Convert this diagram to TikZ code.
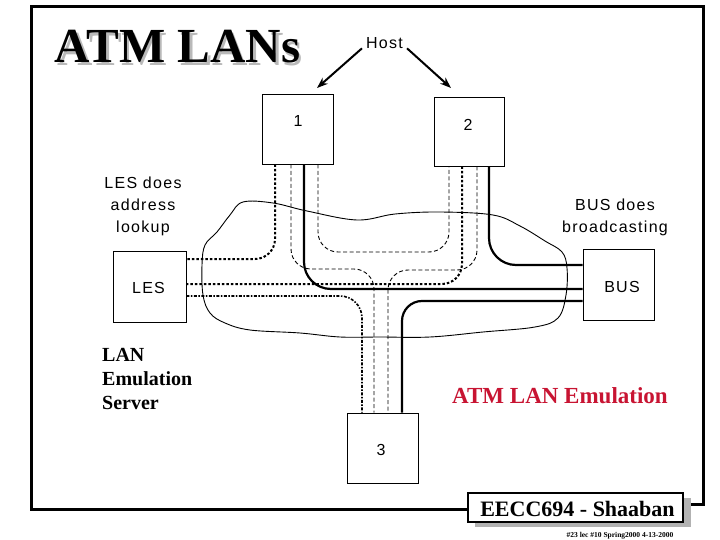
\documentclass[tikz,border=0pt]{standalone}
\usepackage{fontspec}
\setmainfont{Liberation Serif}
\newfontfamily\ars[LetterSpace=8]{Liberation Sans}
\usetikzlibrary{arrows.meta,calc}
\definecolor{atmred}{RGB}{200,20,50}
\begin{document}
\begin{tikzpicture}[x=1pt,y=-1pt,
  box/.style={draw, line width=0.9pt, inner sep=0pt},
  lbl/.style={font=\ars\fontsize{16}{20}\selectfont, anchor=base, inner sep=0pt},
  dotthick/.style={line width=2pt, dash pattern=on 2.5pt off 2pt, rounded corners=20pt},
  dashthin/.style={line width=0.9pt, dash pattern=on 4pt off 2.5pt, rounded corners=20pt},
  dashdot/.style={line width=1.6pt, dash pattern=on 3pt off 1.5pt on 1.5pt off 1.5pt, rounded corners=22pt},
  solidthick/.style={line width=2.2pt, rounded corners=27pt},
  hostarrow/.style={line width=2pt, -{Stealth[length=11pt,width=8pt]}},
  serifb/.style={font=\bfseries\fontsize{20}{24}\selectfont, inner sep=0pt}
]
\useasboundingbox (0,0) rectangle (720,540);
\fill[white] (0,0) rectangle (720,540);

% frame
\draw[line width=3pt] (468,509) -- (31,509) -- (31,7) -- (703,7) -- (703,504) -- (684,504);

% title with shadow
\node[font=\bfseries\fontsize{49}{55}\selectfont, anchor=base, inner sep=0pt] (title) at (177.5,63)
  {\rlap{\kern2.5pt\raisebox{-2.5pt}{\textcolor{gray!55}{ATM LANs}}}ATM LANs};

% cloud
\draw[line width=0.9pt] plot[smooth cycle, tension=0.6] coordinates {(243,202) (273,203) (307,211) (357,220) (395,214) (440,212) (493,215) (520,226) (545,241) (562,252) (567,268) (566,295) (558,318) (535,327) (483,332) (430,337) (380,337) (340,337) (300,333) (250,330) (225,323) (210,313) (203,295) (202,265) (205,245) (217,232) (230,215)};

% boxes
\node[box, minimum width=71pt, minimum height=70pt] (h1) at (297.5,129) {};
\node[lbl] (n1) at (298,127) {1};
\node[box, minimum width=70pt, minimum height=69pt] (h2) at (469,131.5) {};
\node[lbl] (n2) at (468,131) {2};
\node[box, minimum width=73pt, minimum height=71pt] (les) at (149.5,286.5) {};
\node[lbl] (nles) at (148.5,293) {LES};
\node[box, minimum width=71pt, minimum height=71pt] (bus) at (618.5,284.5) {};
\node[lbl] (nbus) at (622,292) {BUS};
\node[box, minimum width=71pt, minimum height=70pt] (b3) at (382.5,448) {};
\node[lbl] (n3) at (381,455) {3};

% host
\node[lbl] (host) at (384.5,49) {Host};
\coordinate (t1) at (317,88);
\coordinate (t2) at (451,88);
\draw[hostarrow] ($(host.south west)+(-4,-1)$) -- (t1);
\draw[hostarrow] ($(host.south east)+(4,-1)$) -- (t2);

% connections
\draw[dotthick] (275,0 |- h1.south) -- (275,259) -- (les.east |- 0,259);
\draw[dashthin] (291,0 |- h1.south) -- (291,269) -- (374,269) -- (374,0 |- b3.north);
\draw[dashthin] (318,0 |- h1.south) -- (318,252) -- (449,252) -- (449,0 |- h2.south);
\draw[dashthin] (477,0 |- h2.south) -- (477,270) -- (388,270) -- (388,0 |- b3.north);
\draw[dotthick] (462,0 |- h2.south) -- (462,284) -- (les.east |- 0,284);
\draw[solidthick] (304,0 |- h1.south) -- (304,289) -- (bus.west |- 0,289);
\draw[solidthick] (489,0 |- h2.south) -- (489,265) -- (bus.west |- 0,265);
\draw[solidthick, rounded corners=20pt] (402,0 |- b3.north) -- (402,301) -- (bus.west |- 0,301);
\draw[dashdot] (les.east |- 0,296) -- (362,296) -- (362,0 |- b3.north);

% texts
\node[lbl] (les1) at (143,189) {LES does};
\node[lbl] (les2) at (143,211) {address};
\node[lbl] (les3) at (143,233) {lookup};
\node[lbl] (bus1) at (615,211) {BUS does};
\node[lbl] (bus2) at (615,233) {broadcasting};

\node[serifb, anchor=base west] (srv1) at (102,361) {LAN};
\node[serifb, anchor=base west] (srv2) at (102,385) {Emulation};
\node[serifb, anchor=base west] (srv3) at (102,409) {Server};

\node[font=\bfseries\fontsize{23}{27}\selectfont, text=atmred, anchor=base, inner sep=0pt] (atm) at (560,403) {ATM LAN Emulation};

% footer
\node[fill=gray!60, minimum width=216pt, minimum height=29pt, inner sep=0pt] (fshadow) at (582.5,512.5) {};
\node[draw, line width=1.6pt, fill=white, minimum width=215pt, minimum height=29pt, inner sep=0pt] (foot) at (575.5,507.5) {};
\node[font=\bfseries\fontsize{22}{26}\selectfont, anchor=base, inner sep=0pt] (foottext) at (577.5,516) {EECC694 - Shaaban};
\node[font=\bfseries\fontsize{7.5}{9}\selectfont, anchor=base, inner sep=0pt] (small) at (620,537) {\#23 lec \#10 Spring2000 4-13-2000};
\end{tikzpicture}
\end{document}
